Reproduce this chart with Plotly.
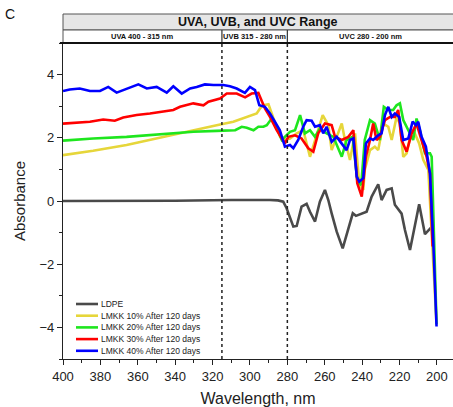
import plotly.graph_objects as go

# Absorbance spectra (wavelength in nm, absorbance in a.u.)
series_names = [
    "LDPE",
    "LMKK 10% After 120 days",
    "LMKK 20% After 120 days",
    "LMKK 30% After 120 days",
    "LMKK 40% After 120 days",
]
series_colors = ["#4a4a4a", "#e6d63a", "#1ee61e", "#ff0000", "#0000ff"]

ldpe_nm = [400, 370, 340, 310, 295, 289.3, 285, 282.2, 280.4, 276.8, 275, 272.4, 269.7,
           267.9, 265.2, 262.6, 259.9, 258.1, 256.3, 253.6, 250.4, 247.4, 245, 243.3,
           241.2, 237.6, 234.9, 231.4, 229.6, 226.9, 224.2, 222.5, 218.9, 217.1, 214.4,
           211.8, 209.5, 206.4, 203.4, 202.8]
ldpe_abs = [0.0, 0.0, 0.01, 0.03, 0.04, 0.03, 0.02, -0.02, -0.23, -0.81, -0.79, -0.18, -0.09,
            -0.34, -0.65, -0.02, 0.35, 0.03, -0.39, -0.97, -1.5, -0.92, -0.39, -0.47,
            -0.42, -0.34, 0.14, 0.53, 0.03, 0.35, 0.4, -0.12, -0.4, -0.92, -1.55,
            -0.81, -0.1, -1.05, -0.86, -0.9]

lmkk10_nm = [400, 383.9, 366, 348.1, 330.3, 317.8, 308.9, 301.7, 296.4, 294.6, 292.8, 290.1,
             287.5, 283.9, 282.2, 278.6, 275, 271.5, 267.9, 264.3, 261.1, 258.1, 256.3,
             253.6, 250.9, 249.2, 246.5, 243.8, 241.5, 239.4, 238.6, 235.8, 233.2, 231.4,
             228.7, 226, 224.2, 221.6, 219.8, 218, 216.2, 213.5, 211.8, 209.5, 207.3, 204.6,
             200.2]
lmkk10_abs = [1.45, 1.59, 1.77, 2.01, 2.24, 2.40, 2.51, 2.66, 2.77, 2.93, 3.03, 3.06,
              2.61, 2.03, 1.93, 1.98, 2.14, 2.24, 1.40, 2.14, 2.72, 2.40, 1.61,
              2.03, 2.45, 1.93, 1.30, 2.14, 0.50, 0.35, 0.98, 1.61, 1.72, 1.61,
              2.45, 2.35, 1.93, 2.66, 2.45, 1.40, 1.51, 2.24, 2.14, 1.82, 1.30, 0.98,
              -3.9]

lmkk20_nm = [400, 383.9, 366, 348.1, 330.3, 317.8, 307.9, 304.4, 301.7, 298.1, 295.5, 292.8,
             291, 288.4, 285.7, 283, 280.3, 278.6, 275.9, 273.2, 270.6, 267.9, 265.2, 262.6,
             259, 255.4, 250.9, 248.3, 245.1, 242.6, 240.5, 238.6, 235.8, 233.2, 230.5,
             228.4, 226, 223.4, 221.6, 219.8, 218, 215.3, 212.7, 210.9, 209.1, 206.4, 203.7,
             202.8, 200.2]
lmkk20_abs = [1.91, 1.98, 2.03, 2.12, 2.19, 2.22, 2.24, 2.35, 2.32, 2.24, 2.35, 2.35,
              2.40, 2.61, 2.35, 1.93, 2.10, 2.19, 2.24, 2.72, 2.14, 2.24, 2.03, 2.30,
              2.14, 2.03, 1.40, 1.93, 2.03, 0.66, 0.50, 1.93, 2.56, 2.45, 1.93,
              2.98, 2.88, 2.88, 3.03, 3.09, 2.56, 2.24, 1.93, 2.61, 2.24, 1.51, 1.51,
              1.40, -3.9]

lmkk30_nm = [400, 385.6, 378.5, 372.3, 367.8, 360.6, 353.5, 348.1, 341, 337.4, 330.3, 324.9,
             322.2, 316, 312.4, 307.1, 302.6, 299.1, 295.5, 292, 289.3, 285.7, 281.3, 279.5,
             275.9, 272.4, 268.8, 266.1, 263.5, 259.9, 256.3, 254.5, 250.9, 247.4, 244.7,
             242.6, 240.2, 238, 235.8, 234.1, 232.3, 230.5, 227.8, 225.1, 222.5, 220.7,
             218.9, 216.2, 213.5, 210.9, 208.2, 205.5, 203.7, 202.3]
lmkk30_abs = [2.45, 2.51, 2.58, 2.54, 2.64, 2.72, 2.77, 2.82, 2.88, 2.98, 3.09, 3.03,
              3.14, 3.24, 3.40, 3.40, 3.28, 3.40, 3.42, 2.93, 2.66, 2.24, 1.82, 2.03,
              2.08, 1.98, 1.67, 1.56, 2.14, 2.45, 2.40, 2.03, 1.93, 2.03, 2.24,
              0.56, 0.14, 1.40, 1.93, 2.45, 1.93, 2.03, 2.56, 2.66, 2.66, 2.88,
              1.93, 1.56, 2.14, 2.45, 1.93, 1.40, 0.87, -1.44]

lmkk40_nm = [400, 396.4, 391, 385.6, 380.2, 375.8, 371.3, 365.9, 359.7, 355.2, 349.9, 344.5,
             341, 336.5, 332, 328.5, 324.1, 319.6, 314.3, 310.7, 307.1, 302.7, 300, 297.3,
             295, 292, 289.3, 286.6, 284, 281.3, 278.6, 276.8, 274.2, 271.5, 269.7, 267,
             265.2, 262.6, 260.8, 259, 256.3, 253.6, 250.9, 248.3, 246.5, 244.7, 242.9,
             241.5, 239.4, 238, 235.8, 234.1, 231.4, 229.6, 227.8, 226, 224.2, 222.5,
             220.2, 218, 215.3, 213, 211.2, 210, 208.2, 205.9, 203.7, 202, 200.2]
lmkk40_abs = [3.48, 3.53, 3.56, 3.48, 3.48, 3.61, 3.43, 3.56, 3.69, 3.56, 3.61, 3.43,
              3.63, 3.40, 3.56, 3.61, 3.69, 3.67, 3.67, 3.63, 3.56, 3.42, 3.61, 3.51,
              3.03, 2.98, 2.77, 2.50, 2.24, 1.72, 1.77, 1.67, 1.93, 2.35, 2.56, 2.54,
              2.35, 2.40, 2.14, 2.35, 1.87, 2.03, 1.82, 1.61, 1.93, 1.98, 0.77,
              0.61, 0.72, 1.82, 1.98, 1.93, 2.08, 2.14, 2.72, 2.98, 2.66, 2.77,
              2.66, 1.93, 1.98, 2.51, 2.40, 2.51, 2.03, 1.72, 0.87, -1.23, -3.97]

series_nm = [ldpe_nm, lmkk10_nm, lmkk20_nm, lmkk30_nm, lmkk40_nm]
series_abs = [ldpe_abs, lmkk10_abs, lmkk20_abs, lmkk30_abs, lmkk40_abs]

# UV band boundaries and labels
band_edges = [400, 315, 280, 191.4]
band_labels = ["UVA 400 - 315 nm", "UVB 315 - 280 nm", "UVC 280 - 200 nm"]
header_title = "UVA, UVB, and UVC Range"

x_ticks = list(range(400, 199, -20))
y_ticks = [-4, -2, 0, 2, 4]

FONT = "Liberation Sans, Arial, sans-serif"
INK = "#222222"

fig = go.Figure()
for name, color, xs, ys in zip(series_names, series_colors, series_nm, series_abs):
    fig.add_trace(go.Scatter(x=xs, y=ys, mode="lines", name=name,
                             line=dict(color=color, width=2.6),
                             showlegend=False))

# plot geometry in pixels, used for header/legend placement in paper units
W, H = 453, 407
L, R, T, B = 63, 0, 43, 48
PH = H - T - B
PW = W - L - R


def py(p):
    """pixel row -> paper y"""
    return (H - B - p) / PH


def px(p):
    """pixel column -> paper x"""
    return (p - L) / PW


shapes = []
# header: grey title strip and white band strip
shapes.append(dict(type="rect", xref="paper", yref="paper", x0=0, x1=1.02,
                   y0=py(30), y1=py(14), fillcolor="#e6e6e6",
                   line=dict(color="#555555", width=1), layer="below"))
shapes.append(dict(type="rect", xref="paper", yref="paper", x0=0, x1=1.02,
                   y0=1, y1=py(30), fillcolor="white",
                   line=dict(color="#555555", width=1), layer="below"))
for edge in band_edges[1:3]:
    shapes.append(dict(type="line", xref="x", yref="paper", x0=edge, x1=edge,
                       y0=1, y1=py(30), line=dict(color="#333333", width=1.2)))
    shapes.append(dict(type="line", xref="x", yref="paper", x0=edge, x1=edge,
                       y0=0, y1=1, line=dict(color="#222222", width=1.5, dash="dot")))
# heavy top border of the plot
shapes.append(dict(type="line", xref="paper", yref="paper", x0=-0.008, x1=1.02,
                   y0=1, y1=1, line=dict(color="#111111", width=2)))

annotations = []
annotations.append(dict(text="<b>%s</b>" % header_title, xref="paper", yref="paper",
                        x=0.5, y=(py(30) + py(14)) / 2, showarrow=False,
                        font=dict(family=FONT, size=12.5, color="#111111"),
                        xanchor="center", yanchor="middle"))
for i, lab in enumerate(band_labels):
    annotations.append(dict(text="<b>%s</b>" % lab, xref="x", yref="paper",
                            x=(band_edges[i] + band_edges[i + 1]) / 2,
                            y=(1 + py(30)) / 2, showarrow=False,
                            font=dict(family=FONT, size=7.5, color="#111111"),
                            xanchor="center", yanchor="middle"))
annotations.append(dict(text="C", xref="paper", yref="paper", x=px(10), y=py(14),
                        showarrow=False, xanchor="center", yanchor="middle",
                        font=dict(family=FONT, size=14, color="#111111")))

# compact legend box
row0, row_gap = 304, 11.7
for i, (name, color) in enumerate(zip(series_names, series_colors)):
    yy = py(row0 + i * row_gap)
    shapes.append(dict(type="line", xref="paper", yref="paper", x0=px(76), x1=px(98),
                       y0=yy, y1=yy, line=dict(color=color, width=2.6)))
    annotations.append(dict(text=name, xref="paper", yref="paper", x=px(99), y=yy,
                            showarrow=False, xanchor="left", yanchor="middle",
                            font=dict(family=FONT, size=8.5, color=INK)))

fig.update_layout(
    width=W, height=H,
    margin=dict(l=L, r=R, t=T, b=B, pad=0),
    paper_bgcolor="white", plot_bgcolor="white",
    font=dict(family=FONT, color=INK),
    shapes=shapes, annotations=annotations,
    showlegend=False,
)
fig.update_xaxes(
    range=[400, 191.4], tickvals=x_ticks, ticks="outside", ticklen=5, tickwidth=1.2,
    tickcolor=INK, showline=True, linecolor=INK, linewidth=1.3, showgrid=False,
    zeroline=False, tickfont=dict(family=FONT, size=13, color=INK),
    minor=dict(dtick=10, tick0=400, ticks="outside", ticklen=3, tickcolor=INK, tickwidth=1),
    title=dict(text="Wavelength, nm", font=dict(family=FONT, size=16, color=INK), standoff=12),
)
fig.update_yaxes(
    range=[-5, 5], tickvals=y_ticks, ticks="outside", ticklen=5, tickwidth=1.2,
    tickcolor=INK, showline=True, linecolor=INK, linewidth=1.3, showgrid=False,
    zeroline=False, tickfont=dict(family=FONT, size=13, color=INK),
    minor=dict(dtick=1, tick0=0, ticks="outside", ticklen=3, tickcolor=INK, tickwidth=1),
    title=dict(text="Absorbance", font=dict(family=FONT, size=15, color=INK), standoff=10),
)

fig.write_html("out.html")
